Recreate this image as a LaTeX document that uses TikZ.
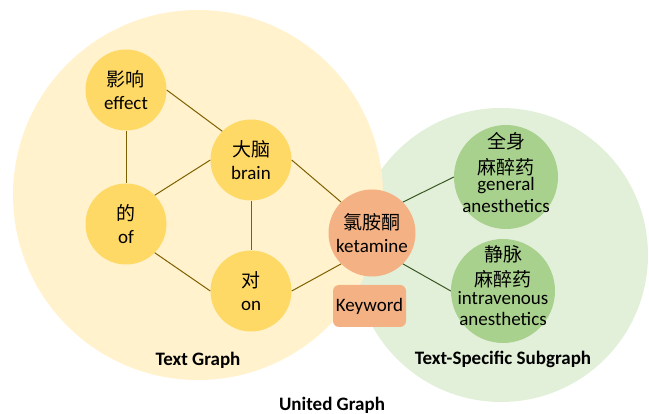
\documentclass[tikz,border=0pt]{standalone}
\usepackage{fontspec}
\setmainfont{Carlito}
\newfontfamily\cjk{Noto Sans CJK SC}
\definecolor{bgyellow}{HTML}{FFF2CC}
\definecolor{bggreen}{HTML}{E2F0D9}
\definecolor{nyellow}{HTML}{FFD966}
\definecolor{norange}{HTML}{F4B183}
\definecolor{ngreen}{HTML}{A9D18E}
\definecolor{lbrown}{HTML}{7F6000}
\definecolor{lgreen}{HTML}{385723}
\tikzset{
  ynode/.style={circle, fill=nyellow, minimum size=81pt, inner sep=0pt, align=center, font=\fontsize{19}{23}\selectfont},
  knode/.style={circle, fill=norange, minimum size=87pt, inner sep=0pt, align=center, font=\fontsize{19}{23}\selectfont},
  gnode/.style={circle, fill=ngreen, minimum size=104pt, inner sep=0pt},
  gtext/.style={align=center, inner sep=0pt, font=\fontsize{19}{22}\selectfont},
  yedge/.style={draw=lbrown, line width=1pt},
  gedge/.style={draw=lgreen, line width=1pt},
  title/.style={font=\fontsize{19}{22}\selectfont\bfseries, inner sep=0pt}
}
\begin{document}
\begin{tikzpicture}[x=1pt,y=-1pt]
\useasboundingbox (0,0) rectangle (649,414);
\fill[bggreen] (501,255) circle (147);
\fill[bgyellow] (198,195) circle (185);

\node[ynode] (effect) at (126,90) {{\cjk 影响}\\effect};
\node[ynode] (brain) at (251,160) {{\cjk 大脑}\\brain};
\node[ynode] (of) at (126,224) {{\cjk 的}\\of};
\node[ynode] (on) at (251,291) {{\cjk 对}\\on};
\node[knode] (ket) at (372,233) {{\cjk 氯胺酮}\\ketamine};
\node[gnode] (gen) at (506,177) {};
\node[gnode] (intra) at (503,291) {};
\node[gtext] (gentext) at (506,172) {{\cjk 全身}\\[4pt]{\cjk 麻醉药}\\[-6pt]general\\anesthetics};
\node[gtext] (intratext) at (503,286) {{\cjk 静脉}\\[3pt]{\cjk 麻醉药}\\[-4pt]intravenous\\[-1pt]anesthetics};

\node[fill=norange, rounded corners=6pt, minimum width=73pt, minimum height=42pt, inner sep=0pt, font=\fontsize{19}{22}\selectfont] (kw) at (369.5,306) {Keyword};

\draw[yedge] (effect.east) -- (brain.north west);
\draw[yedge] (effect.south) -- (of.north);
\draw[yedge] (of.north east) -- (brain.west);
\draw[yedge] (of.south east) -- (on.west);
\draw[yedge] (brain.south) -- (on.north);
\draw[yedge] (brain.east) -- (ket.north west);
\draw[yedge] (on.east) -- (ket.south west);
\draw[gedge] (ket.north east) -- (gen.west);
\draw[gedge] (ket.south east) -- (intra.west);

\node[title] (tg) at (198,360) {Text Graph};
\node[title] (tsg) at (503,359) {Text-Specific Subgraph};
\node[title] (ug) at (332,405) {United Graph};
\end{tikzpicture}
\end{document}
